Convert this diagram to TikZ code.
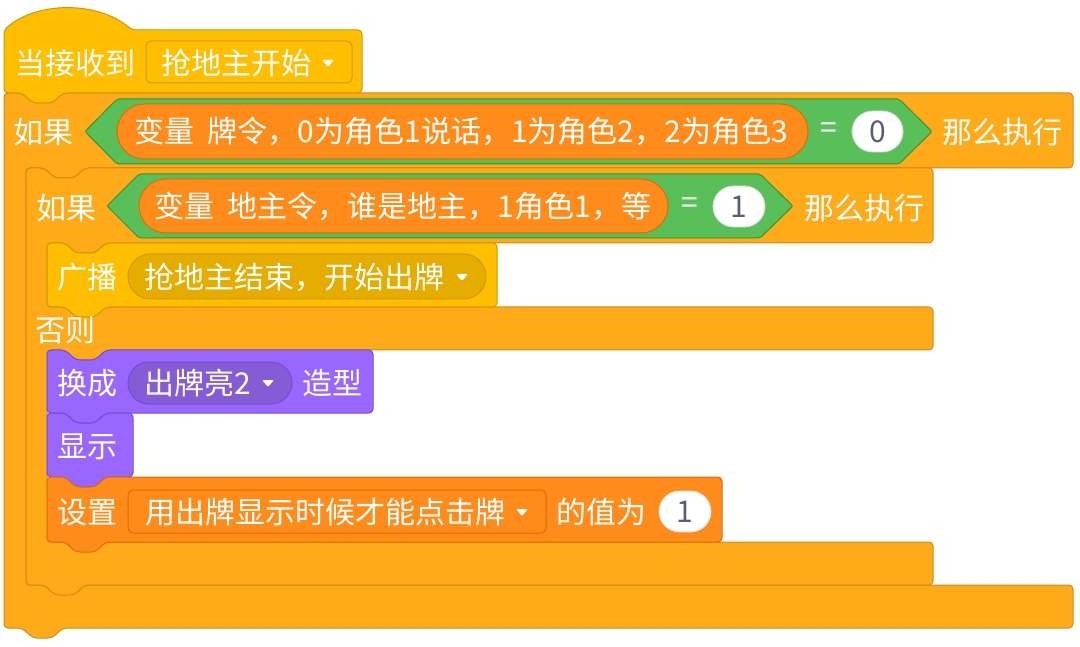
\documentclass[tikz,border=0pt]{standalone}
\usepackage{fontspec}
\newfontfamily\cjk{Noto Sans CJK SC}
\definecolor{ctrl}{HTML}{FFAB19}
\definecolor{ctrlb}{HTML}{CF8B17}
\definecolor{evt}{HTML}{FFBF00}
\definecolor{evtb}{HTML}{CC9900}
\definecolor{evtd}{HTML}{E6AC00}
\definecolor{varc}{HTML}{FF8C1A}
\definecolor{varb}{HTML}{DB6E00}
\definecolor{look}{HTML}{9966FF}
\definecolor{lookb}{HTML}{774DCB}
\definecolor{lookd}{HTML}{855CD6}
\definecolor{opc}{HTML}{59C059}
\definecolor{opb}{HTML}{389438}
\definecolor{numtxt}{HTML}{575E75}
\newcommand\ntop[2]{-- (#1+18,#2) -- (#1+29,#2+10) -- (#1+48,#2+10) -- (#1+59,#2)}
\newcommand\nbot[2]{-- (#1+59,#2) -- (#1+48,#2+10) -- (#1+29,#2+10) -- (#1+18,#2)}
\newcommand\ddtri[2]{\fill[white,rounded corners=1pt] (#1-6,#2-3) -- (#1+6,#2-3) -- (#1,#2+4) -- cycle;}
\begin{document}
\begin{tikzpicture}[x=1pt,y=-1pt,line width=1pt,
  blk/.style={rounded corners=4pt},
  txt/.style={text=white,font=\cjk\fontsize{30}{33}\selectfont,inner sep=0pt,anchor=west},
  ctxt/.style={txt,anchor=center},
  numt/.style={text=numtxt,font=\cjk\fontsize{30}{33}\selectfont,inner sep=0pt,anchor=center},
  inbox/.style={fill=white,draw=black!15,line width=0.8pt}]
\useasboundingbox (0,0) rectangle (1080,647);
% outer if
\draw[blk,fill=ctrl,draw=ctrlb] (4,93) \ntop{4}{93} -- (1073,93) -- (1073,168) \nbot{26}{168} -- (26,168) -- (26,585) -- (1073,585) -- (1073,628) \nbot{4}{628} -- (4,628) -- cycle;
% hat
\draw[blk,fill=evt,draw=evtb] (4,40) -- (4,30) .. controls (37,1) and (98,1) .. (132,30) -- (362,30) -- (362,93) \nbot{4}{93} -- (4,93) -- cycle;
% inner if
\draw[blk,fill=ctrl,draw=ctrlb] (26,168) \ntop{26}{168} -- (933,168) -- (933,243) \nbot{47}{243} -- (47,243) -- (47,307) -- (933,307) -- (933,350) \nbot{47}{350} -- (47,350) -- (47,542) -- (933,542) -- (933,585) \nbot{26}{585} -- (26,585) -- cycle;
% broadcast
\draw[blk,fill=evt,draw=evtb] (47,243) \ntop{47}{243} -- (497,243) -- (497,307) \nbot{47}{307} -- (47,307) -- cycle;
% switch costume
\draw[blk,fill=look,draw=lookb] (47,350) \ntop{47}{350} -- (373,350) -- (373,413) \nbot{47}{413} -- (47,413) -- cycle;
% show
\draw[blk,fill=look,draw=lookb] (47,413) \ntop{47}{413} -- (133,413) -- (133,477) \nbot{47}{477} -- (47,477) -- cycle;
% set
\draw[blk,fill=varc,draw=varb] (47,477) \ntop{47}{477} -- (722,477) -- (722,542) \nbot{47}{542} -- (47,542) -- cycle;

% hat texts
\node[txt] (t1) at (15,63) {当接收到};
\draw[fill=evt,draw=evtb,rounded corners=5pt] (146,41) rectangle (352,83);
\node[txt] (t2) at (161,63) {抢地主开始};
\ddtri{328}{63}

% outer condition
\node[txt] (t3) at (13,132) {如果};
\draw[fill=opc,draw=opb,rounded corners=2pt] (85,131.5) -- (117,99) -- (899,99) -- (932,131.5) -- (899,164) -- (117,164) -- cycle;
\draw[fill=varc,draw=varb,rounded corners=27.5pt] (117,104) rectangle (808,159);
\node[txt] (t4) at (134,131) {变量\hspace{0.45em}牌令，0为角色1说话，1为角色2，2为角色3};
\node[ctxt] (t5) at (829,131) {=};
\draw[inbox,rounded corners=20.5pt] (852,111) rectangle (903,152);
\node[numt] (t6) at (877.5,131.5) {0};
\node[txt] (t7) at (942,132) {那么执行};

% inner condition
\node[txt] (t8) at (36,208) {如果};
\draw[fill=opc,draw=opb,rounded corners=2pt] (107,206) -- (139,174) -- (760,174) -- (793,206) -- (760,238) -- (139,238) -- cycle;
\draw[fill=varc,draw=varb,rounded corners=27pt] (139,179) rectangle (668,233);
\node[txt] (t9) at (154,206) {变量\hspace{0.45em}地主令，谁是地主，1角色1，等};
\node[ctxt] (t10) at (690,206) {=};
\draw[inbox,rounded corners=20.5pt] (713,186) rectangle (765,227);
\node[numt] (t11) at (739,206.5) {1};
\node[txt] (t12) at (804,208) {那么执行};

% broadcast
\node[txt] (t13) at (57,277) {广播};
\draw[fill=evtd,draw=evtb,rounded corners=22.5pt] (128,254) rectangle (486,299);
\node[txt] (t14) at (144,277) {抢地主结束，开始出牌};
\ddtri{462}{277}

% else
\node[txt] (t15) at (35,330) {否则};

% switch costume
\node[txt] (t16) at (57,383) {换成};
\draw[fill=lookd,draw=lookb,rounded corners=21pt] (128,362) rectangle (292,404);
\node[txt] (t17) at (144,383) {出牌亮2};
\ddtri{268}{383}
\node[txt] (t18) at (302,383) {造型};

% show
\node[txt] (t19) at (57,447) {显示};

% set
\node[txt] (t20) at (57,512) {设置};
\draw[fill=varc,draw=varb,rounded corners=5pt] (128,490) rectangle (546,533);
\node[txt] (t21) at (145,512) {用出牌显示时候才能点击牌};
\ddtri{522}{512}
\node[txt] (t22) at (556,512) {的值为};
\draw[inbox,rounded corners=20.5pt] (659,491) rectangle (711,532);
\node[numt] (t23) at (685,511.5) {1};
\end{tikzpicture}
\end{document}
